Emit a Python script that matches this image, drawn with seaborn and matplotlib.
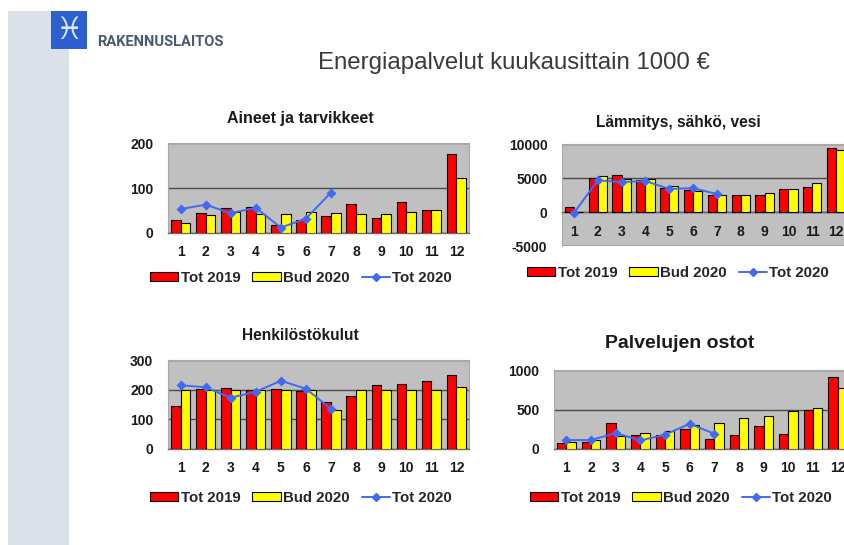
import numpy as np
import pandas as pd
import matplotlib
matplotlib.use("Agg")
import matplotlib.pyplot as plt
import seaborn as sns
from matplotlib.patches import Patch, Rectangle
from matplotlib.lines import Line2D

# ---------------- data ----------------
months = [str(i) for i in range(1, 13)]
bar_series = ["Tot 2019", "Bud 2020"]
line_series = "Tot 2020"

aineet_tot2019 = [30, 44, 55, 58, 18, 30, 37, 64, 33, 69, 52, 175]
aineet_bud2020 = [22, 39, 46, 42, 43, 47, 44, 43, 43, 47, 52, 122]
aineet_tot2020 = [53, 63, 44, 56, 12, 32, 90]

lammitys_tot2019 = [800, 5050, 5500, 4700, 3500, 3250, 2450, 2450, 2450, 3400, 3650, 9400]
lammitys_bud2020 = [0, 5350, 4900, 4850, 3850, 3050, 2450, 2500, 2750, 3400, 4200, 9100]
lammitys_tot2020 = [-150, 4650, 4400, 4550, 3400, 3500, 2650]

henk_tot2019 = [146, 202, 207, 200, 202, 197, 158, 179, 217, 219, 228, 251]
henk_bud2020 = [200, 200, 200, 200, 200, 200, 130, 200, 200, 200, 200, 210]
henk_tot2020 = [215, 208, 173, 193, 230, 203, 135]

palv_tot2019 = [71, 88, 323, 176, 180, 252, 130, 172, 294, 185, 492, 916]
palv_bud2020 = [88, 118, 160, 202, 231, 307, 332, 395, 424, 475, 513, 769]
palv_tot2020 = [113, 113, 202, 109, 181, 319, 193]

titles = ["Aineet ja tarvikkeet", "Lämmitys, sähkö, vesi", "Henkilöstökulut", "Palvelujen ostot"]
yticks_list = [[0, 100, 200], [-5000, 0, 5000, 10000], [0, 100, 200, 300], [0, 500, 1000]]
main_title = "Energiapalvelut kuukausittain 1000 €"
org_name = "RAKENNUSLAITOS"

# ---------------- style ----------------
RED = "#FF0000"
YEL = "#FFFF00"
BLUE = "#4169F2"
PLOT_BG = "#C0C0C0"

sns.set_style("white")
plt.rcParams["font.family"] = ["Liberation Sans", "DejaVu Sans"]

W, H = 845, 545
fig = plt.figure(figsize=(W / 100, H / 100), dpi=100)

def fx(px):
    return px / W

def fy(py):
    return 1 - py / H

# left decorative stripe & logo
fig.add_artist(Rectangle((fx(8), 0), fx(69) - fx(8), fy(11), transform=fig.transFigure,
                         facecolor="#DCE0E9", edgecolor="none", zorder=0))
fig.add_artist(Rectangle((fx(51), fy(49)), fx(87) - fx(51), fy(11) - fy(49),
                         transform=fig.transFigure, facecolor="#2C5FD0", edgecolor="none", zorder=1))
fig.text(fx(69), fy(30), "\u2653", ha="center", va="center", fontsize=22, color="#DDE6F7",
         family=["DejaVu Sans"], zorder=2)
fig.text(fx(97), fy(42), org_name, ha="left", va="center", fontsize=10.5, fontweight="bold",
         color="#4A5870", family=["Roboto", "Liberation Sans", "DejaVu Sans"])

fig.text(fx(514), fy(63), main_title, ha="center", va="center", fontsize=17.3, color="#3A3A3A")

# axes positions in px: (left, top, right, bottom)
boxes = [(168, 143, 469, 233), (562, 144, 848, 246), (168, 360, 469, 449), (554, 370, 850, 449)]
title_pos = [(300, 118, 11.5), (678, 122, 11.2), (300, 335, 11.2), (680, 343, 14)]
legend_pos = [(301, 278), (678, 273), (301, 498), (681, 498)]
datasets = [
    (aineet_tot2019, aineet_bud2020, aineet_tot2020),
    (lammitys_tot2019, lammitys_bud2020, lammitys_tot2020),
    (henk_tot2019, henk_bud2020, henk_tot2020),
    (palv_tot2019, palv_bud2020, palv_tot2020),
]

for i, ((l, t, r, b), (t19, b20, t20)) in enumerate(zip(boxes, datasets)):
    ax = fig.add_axes([fx(l), fy(b), fx(r) - fx(l), fy(t) - fy(b)])
    ax.set_facecolor(PLOT_BG)
    df = pd.DataFrame({
        "month": months * 2,
        "value": list(t19) + list(b20),
        "series": [bar_series[0]] * 12 + [bar_series[1]] * 12,
    })
    sns.barplot(data=df, x="month", y="value", hue="series", order=months, hue_order=bar_series,
                palette=[RED, YEL], width=0.77, saturation=1, edgecolor="black", linewidth=0.8,
                legend=False, ax=ax, zorder=3)
    dl = pd.DataFrame({"month": months[:len(t20)], "value": t20})
    sns.pointplot(data=dl, x="month", y="value", order=months, color=BLUE, markers="D",
                  markersize=4, linewidth=1.4, errorbar=None, ax=ax, zorder=5)
    yt = yticks_list[i]
    ax.set_xlim(-0.5, 11.5)
    ax.set_ylim(yt[0], yt[-1])
    ax.set_yticks(yt)
    ax.set_yticklabels([str(v) for v in yt])
    ax.set_xlabel("")
    ax.set_ylabel("")
    ax.set_axisbelow(True)
    ax.yaxis.grid(True, color="#4A4A4A", linewidth=1.0)
    ax.xaxis.grid(False)
    for s in ["top", "left", "right"]:
        ax.spines[s].set_color("#A8A8A8")
        ax.spines[s].set_linewidth(0.8)
    ax.spines["bottom"].set_color("#6A6A6A")
    ax.spines["bottom"].set_linewidth(1.0)
    if yt[0] < 0:
        ax.spines["bottom"].set_position(("data", 0))
        ax.axhline(yt[0], color="#A8A8A8", linewidth=1.2, zorder=6)
    ax.tick_params(axis="both", length=0)
    ax.tick_params(axis="y", pad=10.5, labelsize=10)
    ax.tick_params(axis="x", pad=9, labelsize=10)
    for lab in ax.get_xticklabels() + ax.get_yticklabels():
        lab.set_fontweight("bold")
        lab.set_color("#1A1A1A")

    tx, ty, ts = title_pos[i]
    fig.text(fx(tx), fy(ty), titles[i], ha="center", va="center", fontsize=ts,
             fontweight="bold", color="#1A1A1A")

    handles = [
        Patch(facecolor=RED, edgecolor="black", linewidth=0.8),
        Patch(facecolor=YEL, edgecolor="black", linewidth=0.8),
        Line2D([], [], color=BLUE, marker="D", markersize=4, linewidth=1.4),
    ]
    lx, ly = legend_pos[i]
    ax.legend(handles, bar_series + [line_series], loc="center", ncol=3,
              bbox_to_anchor=(fx(lx), fy(ly)), bbox_transform=fig.transFigure,
              frameon=False, handlelength=1.9, handleheight=0.55, handletextpad=0.15,
              columnspacing=0.8, borderpad=0, prop={"weight": "bold", "size": 10.8})

fig.savefig("out.png", dpi=100)
